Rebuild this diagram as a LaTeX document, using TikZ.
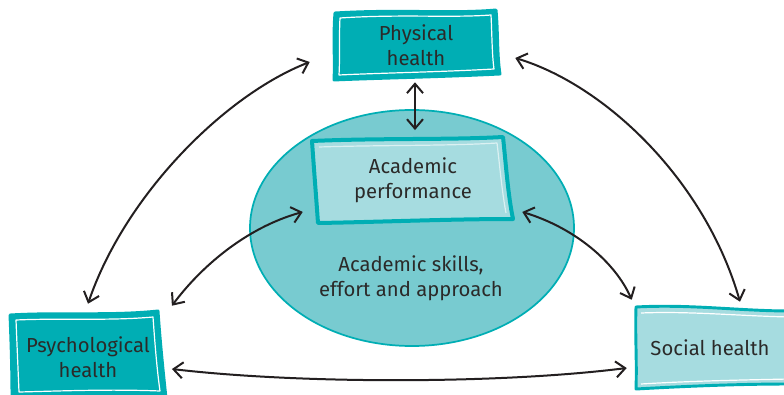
\documentclass[tikz,border=0pt]{standalone}
\usepackage{fontspec}
\setmainfont{Fira Sans}
\usetikzlibrary{arrows.meta,calc,shapes.geometric}
\definecolor{tealdk}{HTML}{00AEB4}
\definecolor{tealell}{HTML}{78CBD0}
\definecolor{tealltl}{HTML}{A6DCE0}
\definecolor{ink}{HTML}{231F20}
\definecolor{txt}{HTML}{2B2A29}
\begin{document}
\begin{tikzpicture}[x=0.75pt,y=-0.75pt,
  lbl/.style={align=center, text=txt, font=\fontsize{15.2}{18.8}\selectfont, inner sep=0pt},
  boxnode/.style={lbl, minimum width=#1},
  frame/.style={draw=tealdk, line width=2.2pt, line join=round},
  gleam/.style={draw=white, line width=0.9pt, line join=round},
  dbl/.style={draw=ink, line width=1.5pt, line cap=round,
    {Straight Barb[length=7pt,width=12pt,line width=1.5pt]}-{Straight Barb[length=7pt,width=12pt,line width=1.5pt]}}]
\useasboundingbox (0,0) rectangle (784,395);
\clip (0,0) rectangle (784,395);

% central ellipse
\node (ell) [ellipse, draw=tealdk, fill=tealell, line width=1.3pt,
  minimum width=243pt, minimum height=177pt, inner sep=0pt] at (412,228) {};

% hand-drawn frames
\path[frame, fill=tealdk] (335,13) .. controls (400,9) and (450,14) .. (496,10)
  .. controls (498,30) and (497,55) .. (500,74)
  .. controls (440,77) and (380,78) .. (334,80)
  .. controls (335,60) and (333,35) .. cycle;
\draw[gleam] (340,18) .. controls (400,14) and (450,18) .. (491,15)
  .. controls (492,35) and (492,55) .. (494,69)
  .. controls (440,72) and (380,73) .. (339,75)
  .. controls (340,58) and (339,36) .. cycle;

\path[frame, line width=3pt, fill=tealltl] (312,141) .. controls (380,138) and (450,140) .. (503,137)
  .. controls (506,165) and (508,195) .. (513,219)
  .. controls (450,219) and (380,222) .. (318,223)
  .. controls (316,195) and (314,170) .. cycle;
\draw[gleam, opacity=0.6] (319,147) .. controls (380,145) and (450,146) .. (497,143)
  .. controls (500,168) and (502,192) .. (506,213);

\path[frame, fill=tealdk] (10,315) .. controls (60,312) and (110,316) .. (158,311)
  .. controls (160,340) and (163,370) .. (166,398)
  -- (12,398) .. controls (12,370) and (11,340) .. cycle;
\draw[gleam] (16,320) .. controls (60,318) and (110,321) .. (153,317)
  .. controls (155,345) and (157,370) .. (160,391)
  .. controls (110,389) and (60,391) .. (19,392)
  .. controls (18,368) and (17,345) .. cycle;

\path[frame, fill=tealltl] (636,307) .. controls (690,304) and (740,311) .. (790,311)
  -- (790,384) .. controls (740,384) and (690,386) .. (636,389)
  .. controls (637,360) and (635,335) .. cycle;
\draw[gleam] (641,313) .. controls (690,311) and (740,316) .. (790,317);
\draw[gleam] (641,384) .. controls (690,381) and (740,380) .. (790,379);

% labels
\node (ph)  [boxnode=124.5pt, minimum height=51pt] at (416,45) {Physical\\health};
\node (ap)  [boxnode=147pt, minimum height=61pt] at (413,180) {Academic\\performance};
\node (psy) [boxnode=115pt, minimum height=63pt] at (88,357) {Psychological\\health};
\node (soc) [boxnode=111pt, minimum height=60pt] at (710,348) {Social health};
\node (skl) [lbl] at (411,278) {Academic skills,\\effort and approach};

% relations
\draw[dbl] ([shift={(-1,3)}]ph.south) -- ([shift={(2,-9)}]ap.north);
\draw[dbl] ([shift={(-23,17)}]ph.west) .. controls (225,95) and (125,195) .. ([shift={(0,-11)}]psy.north);
\draw[dbl] ([shift={(16,13)}]ph.east) .. controls (605,85) and (705,180) .. ([shift={(30,-6)}]soc.north);
\draw[dbl] ([shift={(-12,-9)}]ap.south west) .. controls (245,228) and (200,268) .. ([shift={(7,-9)}]psy.north east);
\draw[dbl] ([shift={(11,-9)}]ap.south east) .. controls (575,228) and (615,262) .. ([shift={(-4,-8)}]soc.north west);
\draw[dbl] ([shift={(7,12)}]psy.east) .. controls (300,384) and (500,384) .. ([shift={(-9,20)}]soc.west);
\end{tikzpicture}
\end{document}
